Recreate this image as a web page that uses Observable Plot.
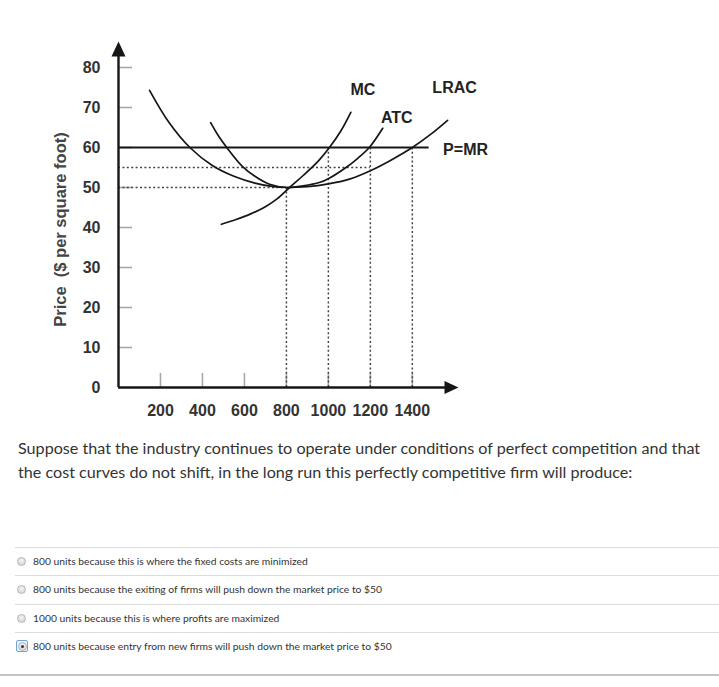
<!DOCTYPE html>
<html>
<head>
<meta charset="utf-8">
<script src="https://cdn.jsdelivr.net/npm/d3@7"></script>
<script src="https://cdn.jsdelivr.net/npm/@observablehq/plot@0.6"></script>
<style>
  html, body { margin: 0; padding: 0; background: #fff; }
  body { width: 719px; height: 687px; overflow: hidden; position: relative; font-family: Lato, "Open Sans", sans-serif; }
  #chart { position: absolute; left: 0; top: 0; }
  #chart svg { display: block; }
  .question { position: absolute; left: 18px; top: 436px; width: 700px; font-size: 16.15px; line-height: 24px; color: #333; }
  .opts { position: absolute; left: 15px; top: 547px; width: 704px; border-top: 1px solid #dcdcdc; }
  .opt { position: relative; height: 27.4px; border-bottom: 1px solid #dcdcdc; font-size: 10.3px; color: #333; line-height: 26.5px; padding-left: 18px; }
  .opt:last-child { border-bottom: none; }
  .radio { position: absolute; left: 2px; top: 9px; width: 7px; height: 7px; border-radius: 50%; border: 1px solid #b5b5b5; background: radial-gradient(circle at 50% 35%, #f4f4f4, #cfcfcf); }
  .sel { position: absolute; left: 1px; top: 6.5px; width: 10px; height: 10px; border: 1.5px solid #6ea3dc; border-radius: 2px; background: #eef4fb; }
  .sel .radio { left: 1px; top: 1px; }
  .sel .radio::after { content: ""; position: absolute; left: 2px; top: 2px; width: 3px; height: 3px; border-radius: 50%; background: #333; }
  .bottomrule { position: absolute; left: 0; top: 674px; width: 719px; height: 2px; background: #c4c4c4; }
</style>
</head>
<body>
<div id="chart"></div>
<div class="question">Suppose that the industry continues to operate under conditions of perfect competition and that the cost curves do not shift, in the long run this perfectly competitive firm will produce:</div>
<div class="opts">
  <div class="opt"><span class="radio"></span>800 units because this is where the fixed costs are minimized</div>
  <div class="opt"><span class="radio"></span>800 units because the exiting of firms will push down the market price to $50</div>
  <div class="opt"><span class="radio"></span>1000 units because this is where profits are maximized</div>
  <div class="opt"><span class="sel"><span class="radio"></span></span>800 units because entry from new firms will push down the market price to $50</div>
</div>
<div class="bottomrule"></div>
<script>
// ---- data ----
const yTicks = [0, 10, 20, 30, 40, 50, 60, 70, 80];
const xTicks = [200, 400, 600, 800, 1000, 1200, 1400];

const mcQ = [490, 560, 630, 700, 757, 815, 880, 955, 1005, 1060, 1107];
const mcP = [40.8, 42.0, 43.4, 45.2, 47.2, 50.0, 53.0, 56.8, 60.0, 64.2, 68.8];

const atcQ = [439, 475, 516, 590, 650, 720, 800, 880, 960, 1000, 1084, 1140, 1195, 1259];
const atcP = [66.2, 63.0, 60.0, 55.3, 52.8, 50.8, 50.0, 50.4, 51.3, 52.2, 55.0, 57.3, 60.0, 64.8];

const lracQ = [148, 240, 340, 447, 550, 650, 740, 800, 900, 1000, 1100, 1200, 1300, 1400, 1490, 1568];
const lracP = [74.3, 66.3, 60.0, 55.5, 52.8, 51.1, 50.2, 50.0, 50.2, 50.9, 52.1, 54.2, 56.9, 60.0, 63.4, 66.8];

const priceLevel = 60;      // P = MR
const priceLineEnd = 1480;  // where the P=MR line stops
const hGuideP = [50, 55];   // dotted horizontal guides
const hGuideQ = [800, 1200];
const vGuideQ = [800, 1000, 1200, 1400]; // dotted vertical guides
const vGuideP = [50, 60, 60, 60];

// ---- build tables ----
const toRows = (qs, ps) => qs.map((q, i) => ({q, p: ps[i]}));
const mc = toRows(mcQ, mcP);
const atc = toRows(atcQ, atcP);
const lrac = toRows(lracQ, lracP);
const hGuides = toRows(hGuideQ, hGuideP);
const vGuides = toRows(vGuideQ, vGuideP);

const xMax = 1620, yMax = 86.5;
const arrowUp = { draw(c) { c.moveTo(0, 0); c.lineTo(-7, 15); c.lineTo(7, 15); c.closePath(); } };
const arrowRight = { draw(c) { c.moveTo(0, 0); c.lineTo(-14, -6.5); c.lineTo(-14, 6.5); c.closePath(); } };

const ink = "#161616";
const font = "'Liberation Sans', Arial, sans-serif";
const labelStyle = { fontFamily: font, fontWeight: "bold", fontSize: 16, fill: "#222" };
const curveStyle = { x: "q", y: "p", stroke: ink, strokeWidth: 1.7, curve: "catmull-rom" };
const dotted = { stroke: "#444", strokeWidth: 1.5, strokeDasharray: "2,2.4" };

const chart = Plot.plot({
  width: 719,
  height: 425,
  marginLeft: 118,
  marginRight: 261,
  marginTop: 41,
  marginBottom: 38,
  x: { domain: [0, xMax] },
  y: { domain: [0, yMax] },
  style: { background: "white", fontFamily: font },
  marks: [
    // tick marks (light gray, inside the axes)
    Plot.ruleY(yTicks.filter(d => d > 0), { y: d => d, x1: 0, x2: 67, stroke: "#a8a8a8", strokeWidth: 1.6 }),
    Plot.ruleX(xTicks, { x: d => d, y1: 0, y2: 3.5, stroke: "#a8a8a8", strokeWidth: 1.6 }),
    // tick labels
    Plot.axisY({ ticks: yTicks, tickSize: 0, tickPadding: 18, label: null, fontSize: 16, fontWeight: "bold", fill: "#333", tickFormat: d => String(d) }),
    Plot.axisX({ ticks: xTicks, tickSize: 0, tickPadding: 17, label: null, fontSize: 16, fontWeight: "bold", fill: "#333", tickFormat: d => String(d) }),
    // axis title
    Plot.text(["Price\u00a0\u00a0($ per square foot)"], { text: d => d, frameAnchor: "left", textAnchor: "middle", rotate: -90, dx: -58, dy: 15, fontFamily: font, fontWeight: "bold", fontSize: 16.5, fill: "#444" }),
    // dotted guides
    Plot.ruleY(hGuides, { y: "p", x1: 0, x2: "q", ...dotted }),
    Plot.ruleX(vGuides, { x: "q", y1: 0, y2: "p", ...dotted }),
    // price line
    Plot.ruleY([priceLevel], { y: d => d, x1: 0, x2: priceLineEnd, stroke: ink, strokeWidth: 2.2 }),
    // cost curves
    Plot.line(lrac, curveStyle),
    Plot.line(atc, curveStyle),
    Plot.line(mc, curveStyle),
    // axes with arrowheads
    Plot.ruleX([0], { x: d => d, y1: 0, y2: yMax - 2, stroke: ink, strokeWidth: 2.4 }),
    Plot.ruleY([0], { y: d => d, x1: 0, x2: xMax - 40, stroke: ink, strokeWidth: 2.4 }),
    Plot.dot([{q: 0, p: yMax}], { x: "q", y: "p", symbol: arrowUp, fill: ink, stroke: "none" }),
    Plot.dot([{q: xMax, p: 0}], { x: "q", y: "p", symbol: arrowRight, fill: ink, stroke: "none" }),
    // curve labels
    Plot.text([mc.at(-1)], { x: "q", y: "p", text: () => "MC", dx: 12, dy: -22, ...labelStyle }),
    Plot.text([atc.at(-1)], { x: "q", y: "p", text: () => "ATC", dx: 14, dy: -10, ...labelStyle }),
    Plot.text([lrac.at(-1)], { x: "q", y: "p", text: () => "LRAC", dx: 7, dy: -32, ...labelStyle }),
    Plot.text([{q: priceLineEnd, p: priceLevel}], { x: "q", y: "p", text: () => "P=MR", dx: 14, dy: 2, textAnchor: "start", ...labelStyle })
  ]
});
document.getElementById("chart").appendChild(chart);
</script>
</body>
</html>
